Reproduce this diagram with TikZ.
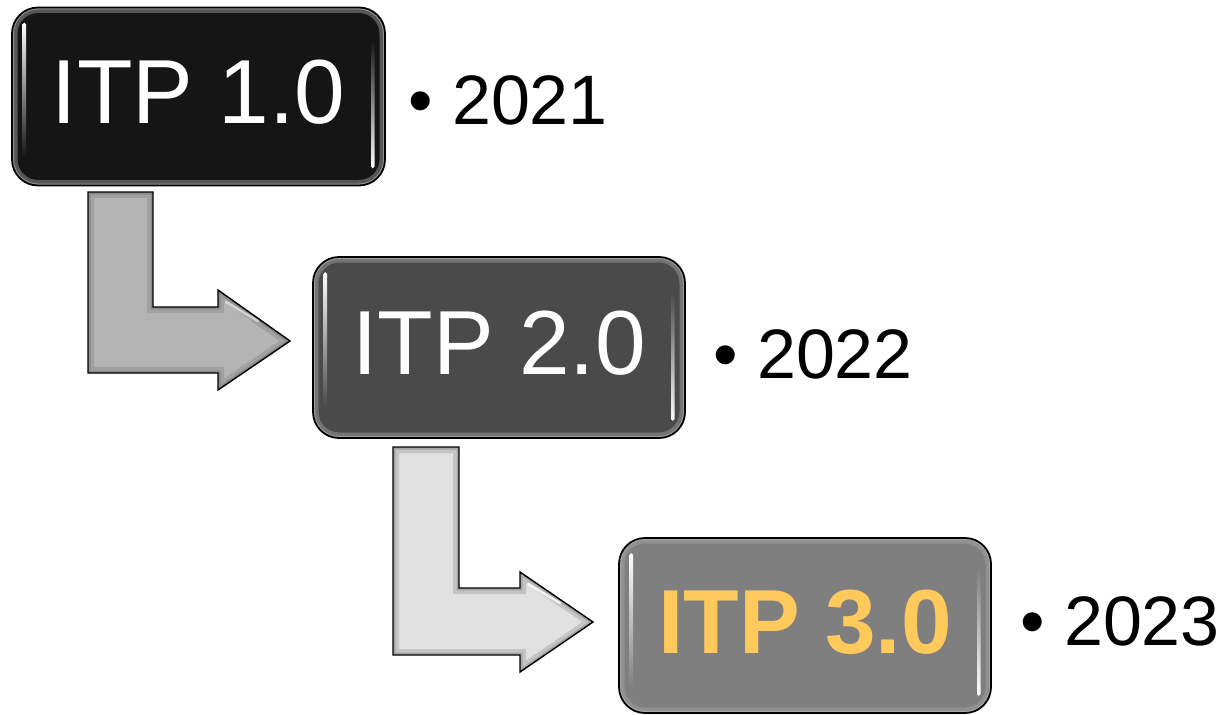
\documentclass[tikz,border=0pt]{standalone}
\usepackage{fontspec}
\setmainfont{Liberation Sans}
\definecolor{boxA}{HTML}{151515}
\definecolor{boxB}{HTML}{4A4A4A}
\definecolor{boxC}{HTML}{7F7F7F}
\definecolor{arrA}{HTML}{B4B4B4}
\definecolor{arrB}{HTML}{E1E1E1}
\definecolor{itpyellow}{HTML}{FFC95C}
\newcommand\arrowApath{(88,192) -- (153,192) -- (153,307) -- (218,307) -- (218,290) -- (290,341) -- (218,390) -- (218,373) -- (88,373) -- cycle}
\newcommand\arrowBpath{(393,447) -- (459,447) -- (459,588) -- (520,588) -- (520,572) -- (593,622) -- (520,672) -- (520,655) -- (393,655) -- cycle}
\begin{document}
\begin{tikzpicture}[x=1pt,y=-1pt,
  glossbox/.style={rectangle, rounded corners=26pt, draw=black, line width=1.8pt,
    fill=#1, inner sep=0pt, text depth=10pt, font=\fontsize{91}{91}\selectfont,
    path picture={
      \draw[line width=11pt, gray!70, opacity=.45, rounded corners=26pt]
        (path picture bounding box.south west) rectangle (path picture bounding box.north east);
      \draw[line width=4pt, gray!55, opacity=.6, rounded corners=26pt]
        (path picture bounding box.south west) rectangle (path picture bounding box.north east);
      \shade[top color=white, bottom color=#1, rounded corners=1.8pt]
        ([xshift=10.5pt,yshift=-15pt]path picture bounding box.north west) rectangle
        ([xshift=14pt,yshift=-150pt]path picture bounding box.north west);
      \shade[top color=#1, bottom color=white, rounded corners=1.8pt]
        ([xshift=-14pt,yshift=17pt]path picture bounding box.south east) rectangle
        ([xshift=-10.5pt,yshift=145pt]path picture bounding box.south east);
    }},
  yeartext/.style={anchor=base west, inner sep=0pt, font=\fontsize{70}{70}\selectfont, text=black},
  blockarrow/.style={draw=black, line width=1.4pt, line join=miter}
]
\useasboundingbox (0,0) rectangle (1230,714);

% block arrows
\fill[arrA] \arrowApath;
\begin{scope}
  \clip \arrowApath;
  \draw[line width=12pt, black!45, opacity=.45, line join=miter] \arrowApath;
  \draw[line width=5pt, black!60, opacity=.35, line join=miter] \arrowApath;
  \draw[white, line width=2.5pt, opacity=.55, line cap=round] (226,302) -- (258,321);
\end{scope}
\draw[blockarrow] \arrowApath;

\fill[arrB] \arrowBpath;
\begin{scope}
  \clip \arrowBpath;
  \draw[line width=12pt, black!40, opacity=.4, line join=miter] \arrowBpath;
  \draw[line width=5pt, black!55, opacity=.35, line join=miter] \arrowBpath;
  \draw[white, line width=2.5pt, opacity=.8, line cap=round] (528,584) -- (560,603);
\end{scope}
\draw[blockarrow] \arrowBpath;

% boxes
\node[glossbox=boxA, minimum width=373pt, minimum height=178pt, text=white]
  (b1) at (198.5,96.5) {ITP 1.0};
\node[glossbox=boxB, minimum width=372pt, minimum height=181pt, text=white]
  (b2) at (499,347.5) {ITP 2.0};
\node[glossbox=boxC, minimum width=372pt, minimum height=175pt, text=itpyellow,
  font=\fontsize{91}{91}\selectfont\bfseries, text depth=7pt]
  (b3) at (805,625.5) {ITP 3.0};

% years
\node[yeartext] (y1) at (408,125) {• 2021};
\node[yeartext] (y2) at (713,378) {• 2022};
\node[yeartext] (y3) at (1020,645) {• 2023};
\end{tikzpicture}
\end{document}
